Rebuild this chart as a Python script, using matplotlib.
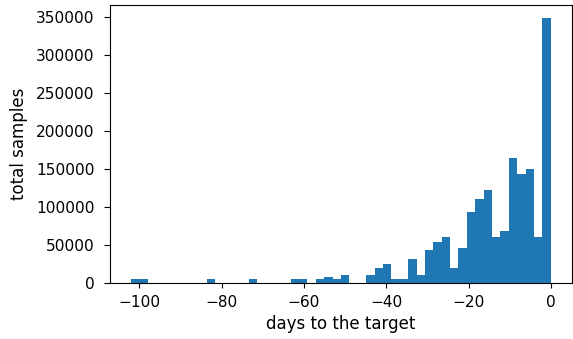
import numpy as np
import matplotlib
matplotlib.use("Agg")
import matplotlib.pyplot as plt

# 50 bins spanning -102 .. 0 days
bin_lo, bin_hi, n_bins = -102, 0, 50
counts = [
    5000, 5000, 0, 0, 0, 0, 0, 0, 0, 5000,           # 0-9
    0, 0, 0, 0, 5000, 0, 0, 0, 0, 5000,              # 10-19
    5000, 0, 5000, 8500, 5500, 11000, 0, 0, 11000, 19400,  # 20-29
    25000, 5300, 5300, 31700, 11000, 43200, 53700, 60300, 19400, 46200,  # 30-39
    94000, 111000, 122000, 60300, 69000, 165000, 143000, 150500, 60300, 348500,  # 40-49
]

edges = np.linspace(bin_lo, bin_hi, n_bins + 1)
centers = (edges[:-1] + edges[1:]) / 2

fig = plt.figure(figsize=(5.73, 3.39), dpi=100)
ax = fig.add_axes([0.192, 0.165, 0.806, 0.820])
ax.hist(centers, bins=edges, weights=counts, color="#1f77b4")
ax.set_xlabel("days to the target", fontsize=12, labelpad=4)
ax.set_ylabel("total samples", fontsize=12, labelpad=6)
ax.tick_params(axis="both", labelsize=11.1)
ax.tick_params(axis="y", length=4.5, pad=6.5)
ax.tick_params(axis="x", length=3.8, pad=4.5)
fig.savefig("out.png", dpi=100)
